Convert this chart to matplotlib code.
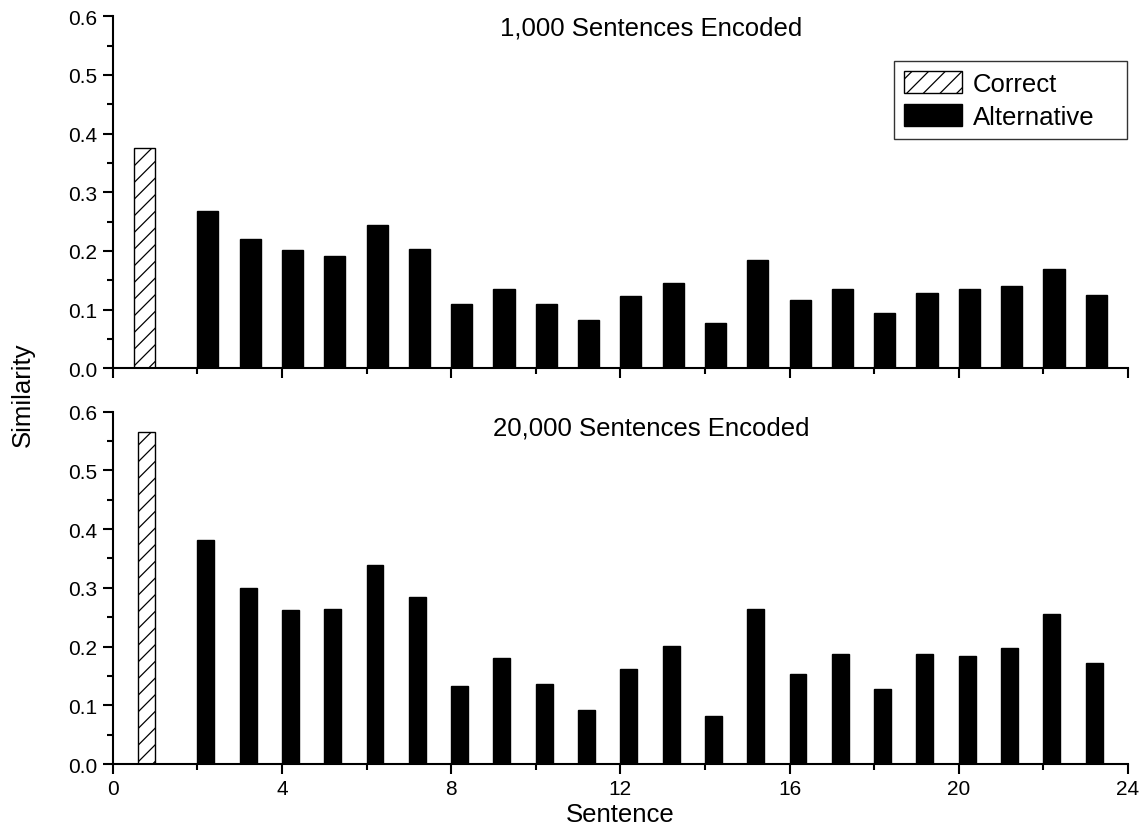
import numpy as np
import matplotlib
matplotlib.use("Agg")
import matplotlib.pyplot as plt
from matplotlib.ticker import MultipleLocator

plt.rcParams["font.family"] = ["Liberation Sans", "DejaVu Sans"]
plt.rcParams["hatch.linewidth"] = 0.9

# similarity of the correct sentence vs. the alternatives (sentences 2..23)
correct_sentence = 1
alt_sentences = list(range(2, 24))

correct_1k = 0.376
alt_1k = [0.268, 0.221, 0.201, 0.192, 0.244, 0.204, 0.109, 0.136, 0.109, 0.083,
          0.124, 0.145, 0.078, 0.184, 0.116, 0.135, 0.095, 0.128, 0.136, 0.140,
          0.170, 0.125]

correct_20k = 0.565
alt_20k = [0.382, 0.299, 0.262, 0.264, 0.339, 0.284, 0.132, 0.181, 0.136, 0.092,
           0.161, 0.201, 0.082, 0.264, 0.154, 0.188, 0.127, 0.187, 0.184, 0.198,
           0.256, 0.172]

panels = [
    ("1,000 Sentences Encoded", correct_1k, alt_1k, 0.5),
    ("20,000 Sentences Encoded", correct_20k, alt_20k, 0.4),
]

fig = plt.figure(figsize=(11.42, 8.29), dpi=100)
ax_top = fig.add_axes([0.0987, 0.5545, 0.889, 0.4246])
ax_bot = fig.add_axes([0.0987, 0.0772, 0.889, 0.4250])

for ax, (title, corr, alt, w) in zip([ax_top, ax_bot], panels):
    ax.bar([correct_sentence], [corr], width=-w, align="edge",
           facecolor="white", edgecolor="black", linewidth=1.0,
           hatch="//", label="Correct")
    ax.bar(alt_sentences, alt, width=w, align="edge",
           facecolor="black", edgecolor="black", linewidth=1.0,
           label="Alternative")

    ax.set_xlim(0, 24)
    ax.set_ylim(0, 0.6)
    ax.xaxis.set_major_locator(MultipleLocator(4))
    ax.xaxis.set_minor_locator(MultipleLocator(2))
    ax.yaxis.set_major_locator(MultipleLocator(0.1))
    ax.yaxis.set_minor_locator(MultipleLocator(0.05))
    ax.yaxis.set_major_formatter(matplotlib.ticker.FormatStrFormatter("%.1f"))
    for side in ("top", "right"):
        ax.spines[side].set_visible(False)
    for side in ("left", "bottom"):
        ax.spines[side].set_linewidth(1.5)
    ax.tick_params(which="major", direction="out", length=7, width=1.5,
                   labelsize=15, pad=4)
    ax.tick_params(which="minor", direction="out", length=4, width=1.5)
    ax.text(0.53, 0.968 if ax is ax_top else 0.955, title, transform=ax.transAxes,
            ha="center", va="center", fontsize=18.5)

ax_top.tick_params(axis="x", which="both", labelbottom=False)

# legend box stretched to a fixed width in the upper right of the top panel
leg = ax_top.legend(loc="upper left", bbox_to_anchor=(0.7695, 0.873, 0.2295, 0.0),
                    mode="expand", fontsize=18.5, frameon=True, fancybox=False,
                    handlelength=2.26, handleheight=0.95, handletextpad=0.4,
                    labelspacing=0.3, borderpad=0.4, borderaxespad=0)
leg.get_frame().set_edgecolor("black")
leg.get_frame().set_linewidth(1.0)

ax_bot.set_xlabel("Sentence", fontsize=18.5, labelpad=3)
fig.text(0.020, 0.5235, "Similarity", rotation=90, ha="center", va="center",
         fontsize=18.5)

fig.savefig("out.png", dpi=100)
